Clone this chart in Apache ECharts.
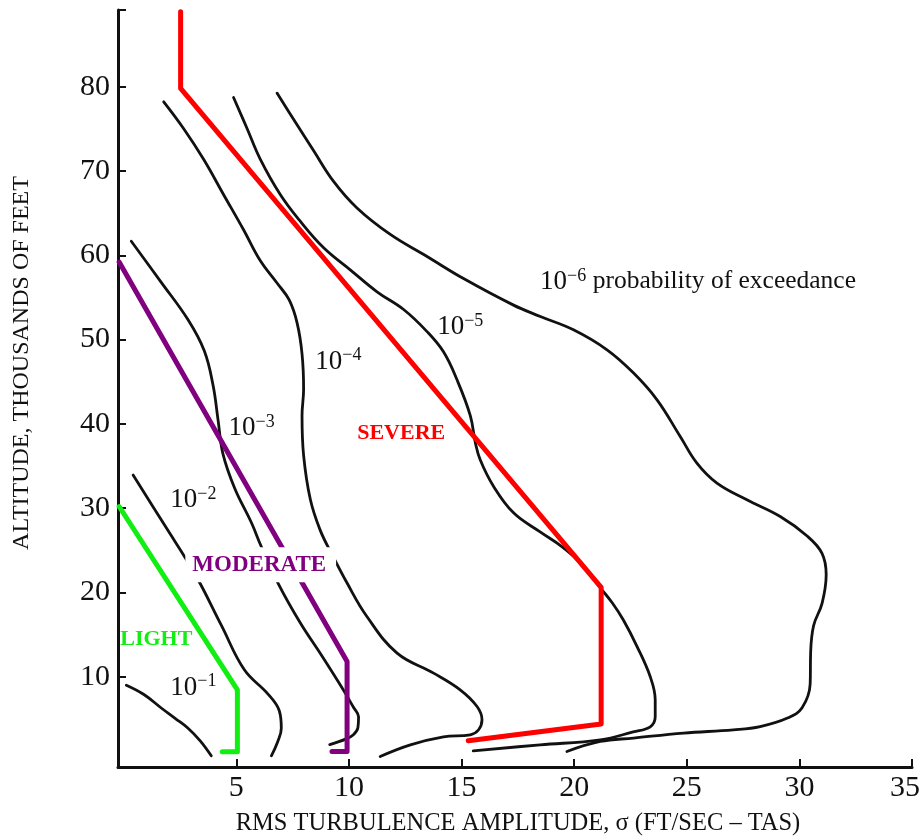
<!DOCTYPE html>
<html><head><meta charset="utf-8">
<script src="https://cdn.jsdelivr.net/npm/echarts@6/dist/echarts.min.js"></script>
<style>html,body{margin:0;padding:0;background:#fff}#c{width:922px;height:840px}</style>
</head><body><div id="c"></div>
<script>
// ---- data (x: RMS turbulence amplitude ft/s, y: altitude thousands of feet) ----
const xTickValues = [5, 10, 15, 20, 25, 30, 35];
const yTickValues = [10, 20, 30, 40, 50, 60, 70, 80];

const curve1e1 = [[0.12,9.0],[0.9,7.9],[1.67,6.3],[2.3,5.05],[2.86,3.9],[3.4,2.4],[3.89,0.63]];
const curve1e2 = [[0.42,33.93],[1.81,28.03],[3.16,22.22],[4.34,16.10],[5.36,10.83],[6.40,7.98],[6.91,5.97],[7.00,3.89],[6.84,2.29],[6.56,0.63]];
const curve1e3 = [[0.34,61.67],[1.67,56.79],[2.86,52.35],[3.58,48.67],[3.97,44.58],[4.19,40.51],[4.41,36.45],[4.93,32.37],[5.67,28.30],[6.11,25.45],[6.87,21.03],[7.84,16.41],[8.77,12.61],[9.75,8.46],[10.19,6.44],[10.43,5.26],[10.40,3.95],[10.20,3.12],[9.88,2.64],[9.15,1.95]];
const curve1e4 = [[1.78,78.21],[2.66,75.05],[3.55,71.39],[4.44,67.19],[5.33,63.00],[6.07,59.35],[6.81,56.71],[7.35,54.70],[7.70,51.99],[7.92,48.32],[7.99,44.13],[7.92,40.98],[7.99,36.28],[8.29,31.03],[8.73,27.37],[9.26,24.47],[9.92,21.12],[10.80,17.15],[12.14,12.81],[13.76,10.44],[14.94,8.46],[15.69,6.48],[15.91,4.90],[15.76,3.72],[15.39,3.12],[14.20,2.88],[12.73,1.93],[11.39,0.55]];
const curve1e5 = [[4.88,78.72],[5.48,75.05],[6.07,71.39],[6.96,67.19],[7.84,64.05],[8.88,60.90],[10.06,58.28],[11.25,55.67],[12.43,53.57],[13.47,50.95],[14.20,48.55],[14.80,45.23],[15.39,40.98],[15.61,37.84],[15.83,35.74],[16.42,32.60],[17.31,29.45],[18.49,27.19],[19.47,25.42],[20.27,23.52],[21.16,20.56],[21.69,18.78],[22.18,16.76],[22.80,13.56],[23.38,10.00],[23.60,7.27],[23.60,5.25],[23.38,4.07],[22.62,3.47],[21.16,2.52],[18.49,1.93],[15.52,1.22]];
const curve1e6 = [[6.81,79.24],[7.55,76.10],[8.43,72.43],[9.32,68.77],[10.36,65.62],[11.84,62.48],[13.47,59.86],[15.09,57.24],[17.31,54.09],[18.50,52.74],[19.97,51.16],[21.46,48.79],[22.64,46.03],[23.68,42.86],[24.71,38.51],[25.45,35.35],[26.34,32.98],[27.67,31.00],[29.15,29.02],[30.33,26.73],[31.00,24.67],[31.19,22.10],[31.01,18.74],[30.63,16.05],[30.50,12.81],[30.48,9.17],[30.12,6.32],[29.50,5.14],[28.26,4.10],[27.07,3.71],[24.86,3.32],[22.64,2.73],[21.16,2.33],[19.68,1.14]];

const severeLine   = [[2.53,88.9],[2.53,79.8],[21.2,20.6],[21.2,4.4],[15.3,2.41]];
const moderateLine = [[-0.2,59.2],[9.92,11.81],[9.92,1.14],[9.25,1.14]];
const lightLine    = [[-0.2,30.2],[5.05,8.46],[5.05,1.1],[4.38,1.1]];

const annotationTexts = ['{b|10}{s|−6}{t| probability of exceedance}','{b|10}{s|−5}','{b|10}{s|−4}','{b|10}{s|−3}','{b|10}{s|−2}','{b|10}{s|−1}','SEVERE','MODERATE','LIGHT'];
const annotationAnchors = [[18.49,56.86],[13.92,51.5],[8.51,47.4],[4.66,39.5],[2.07,31.0],[2.07,8.7],[10.37,38.9],[2.74,23.3],[-0.15,14.4]];

// ---- chart ----
const FONT = '"Liberation Serif", "Times New Roman", serif';
const INK = '#111';
const chart = echarts.init(document.getElementById('c'));

function curve(name, data, color, width, z, smooth) {
  return { type: 'line', name, data, symbol: 'none', showSymbol: false, smooth,
    lineStyle: { color, width, cap: 'round', join: 'round', opacity: 1 }, z, silent: true, clip: false };
}

const richSup = {
  b: { fontFamily: FONT, fontSize: 27, lineHeight: 30, color: INK, opacity: 1 },
  s: { fontFamily: FONT, fontSize: 18, lineHeight: 16, verticalAlign: 'top', color: INK, opacity: 1 },
  t: { fontFamily: FONT, fontSize: 25.5, lineHeight: 30, color: INK, opacity: 1 }
};
const plainStyles = {
  'SEVERE':   { color: '#ff0000', fontSize: 22, fontWeight: 'bold' },
  'MODERATE': { color: '#800080', fontSize: 23, fontWeight: 'bold', backgroundColor: '#ffffff', padding: [6, 10, 6, 7] },
  'LIGHT':    { color: '#11ee11', fontSize: 22, fontWeight: 'bold' }
};

const annData = annotationTexts.map((t, i) => {
  const st = plainStyles[t];
  const label = st ? Object.assign({ formatter: t, fontFamily: FONT, opacity: 1 }, st) : { formatter: t, rich: richSup, opacity: 1 };
  return { value: annotationAnchors[i], label };
});

chart.setOption({
  animation: false,
  backgroundColor: '#fff',
  grid: { left: 118, right: 10, top: 10, bottom: 73, containLabel: false, outerBoundsMode: 'none' },
  xAxis: {
    type: 'value', min: -0.25, max: 35,
    name: 'RMS TURBULENCE AMPLITUDE, σ (FT/SEC – TAS)', nameLocation: 'middle', nameGap: 44,
    nameTextStyle: { fontFamily: FONT, fontSize: 24.5, color: INK, padding: [0, 0, 0, 6] },
    axisLine: { show: true, onZero: false, lineStyle: { color: INK, width: 3 } },
    axisTick: { show: true, inside: true, length: 8, lineStyle: { color: INK, width: 2 }, customValues: xTickValues },
    axisLabel: { fontFamily: FONT, fontSize: 30, color: INK, margin: 6, customValues: xTickValues,
      formatter: v => v === 35 ? '{r|35}' : String(v),
      rich: { r: { fontFamily: FONT, fontSize: 30, color: INK, padding: [0, 14, 0, 0] } } },
    splitLine: { show: false }
  },
  yAxis: {
    type: 'value', min: -0.7, max: 89.1,
    axisLine: { show: true, onZero: false, lineStyle: { color: INK, width: 3 } },
    axisTick: { show: true, inside: true, length: 8, lineStyle: { color: INK, width: 2 }, customValues: yTickValues.concat([89.1]) },
    axisLabel: { fontFamily: FONT, fontSize: 30, color: INK, margin: 8, padding: [8, 0, 0, 0], customValues: yTickValues },
    splitLine: { show: false }
  },
  graphic: [{
    type: 'text', x: 22, y: 363, rotation: Math.PI / 2,
    style: { text: 'ALTITUDE, THOUSANDS OF FEET', font: '24px "Liberation Serif", serif', fill: INK, align: 'center', verticalAlign: 'middle' }
  }],
  series: [
    curve('1e-1', curve1e1, INK, 2.8, 2, 0.4),
    curve('1e-2', curve1e2, INK, 2.8, 2, 0.4),
    curve('1e-3', curve1e3, INK, 2.8, 2, 0.4),
    curve('1e-4', curve1e4, INK, 2.8, 2, 0.4),
    curve('1e-5', curve1e5, INK, 2.8, 2, 0.4),
    curve('1e-6', curve1e6, INK, 2.8, 2, 0.4),
    curve('SEVERE', severeLine, '#ff0000', 5, 4, false),
    curve('MODERATE', moderateLine, '#800080', 5, 4, false),
    curve('LIGHT', lightLine, '#11ee11', 5, 4, false),
    { type: 'scatter', data: annData, symbolSize: 0, silent: true, z: 10,
      itemStyle: { opacity: 1 },
      label: { show: true, position: 'right', distance: 0, opacity: 1 } }
  ]
});
</script>
</body></html>
